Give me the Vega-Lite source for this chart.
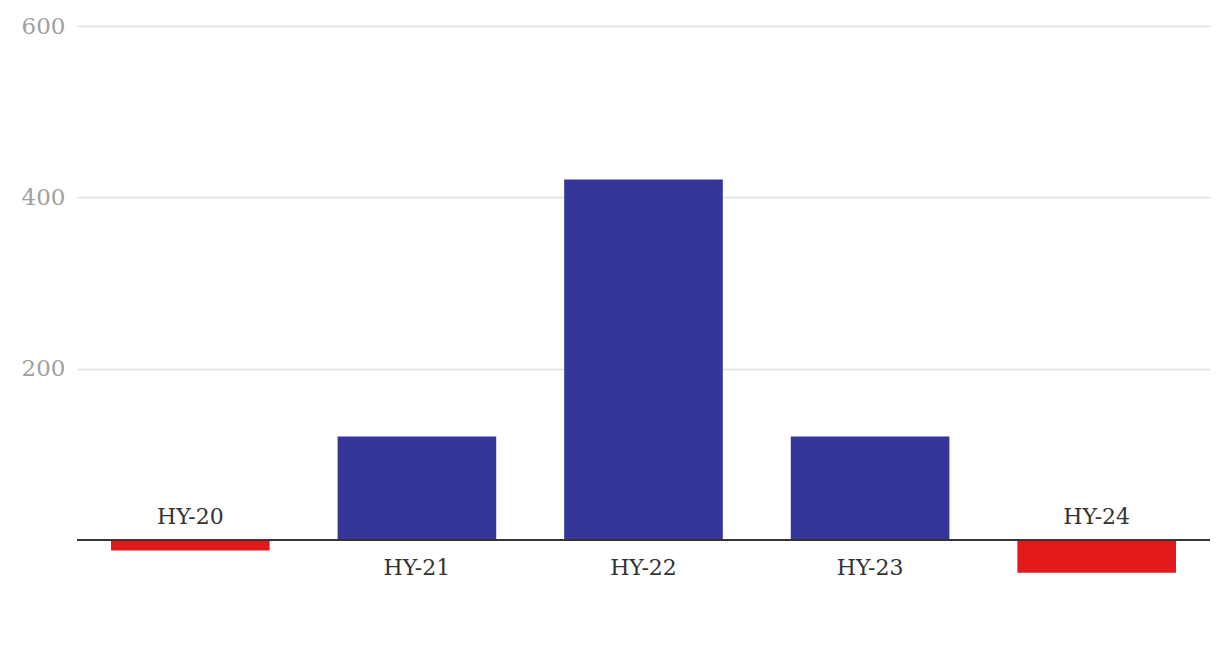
{
  "$schema": "https://vega.github.io/schema/vega-lite/v6.json",
  "width": 1133,
  "height": 617,
  "autosize": {"type": "none"},
  "padding": {"left": 77, "top": 26, "right": 10, "bottom": 15},
  "background": "white",
  "config": {"view": {"stroke": null}},
  "data": {"values": [
    {"period": "HY-20", "value": -12},
    {"period": "HY-21", "value": 121},
    {"period": "HY-22", "value": 421},
    {"period": "HY-23", "value": 121},
    {"period": "HY-24", "value": -38}
  ]},
  "encoding": {
    "x": {"field": "period", "type": "nominal", "sort": null, "axis": null,
          "scale": {"paddingInner": 0.3, "paddingOuter": 0.15}}
  },
  "layer": [
    {
      "mark": {"type": "bar"},
      "encoding": {
        "y": {"field": "value", "type": "quantitative",
              "scale": {"domain": [-120, 600], "nice": false},
              "axis": {"values": [200, 400, 600], "domain": false, "ticks": false, "grid": true,
                       "gridColor": "#e0e0e0", "gridWidth": 1.3, "title": null,
                       "labelColor": "#a0a0a0", "labelFont": "DejaVu Serif", "labelFontSize": 23,
                       "labelPadding": 12, "labelBaseline": "middle"}},
        "color": {"condition": {"test": "datum.value < 0", "value": "#e31a1c"}, "value": "#35359a"}
      }
    },
    {
      "mark": {"type": "rule", "color": "#333333", "strokeWidth": 1.5},
      "encoding": {"y": {"datum": 0, "type": "quantitative"}, "x": {"value": 0}, "x2": {"value": 1133}}
    },
    {
      "transform": [{"filter": "datum.value >= 0"}],
      "mark": {"type": "text", "font": "DejaVu Serif", "fontSize": 22, "color": "#333333", "baseline": "middle", "dy": 28},
      "encoding": {"y": {"datum": 0, "type": "quantitative"}, "text": {"field": "period"}}
    },
    {
      "transform": [{"filter": "datum.value < 0"}],
      "mark": {"type": "text", "font": "DejaVu Serif", "fontSize": 22, "color": "#333333", "baseline": "middle", "dy": -23},
      "encoding": {"y": {"datum": 0, "type": "quantitative"}, "text": {"field": "period"}}
    }
  ]
}
